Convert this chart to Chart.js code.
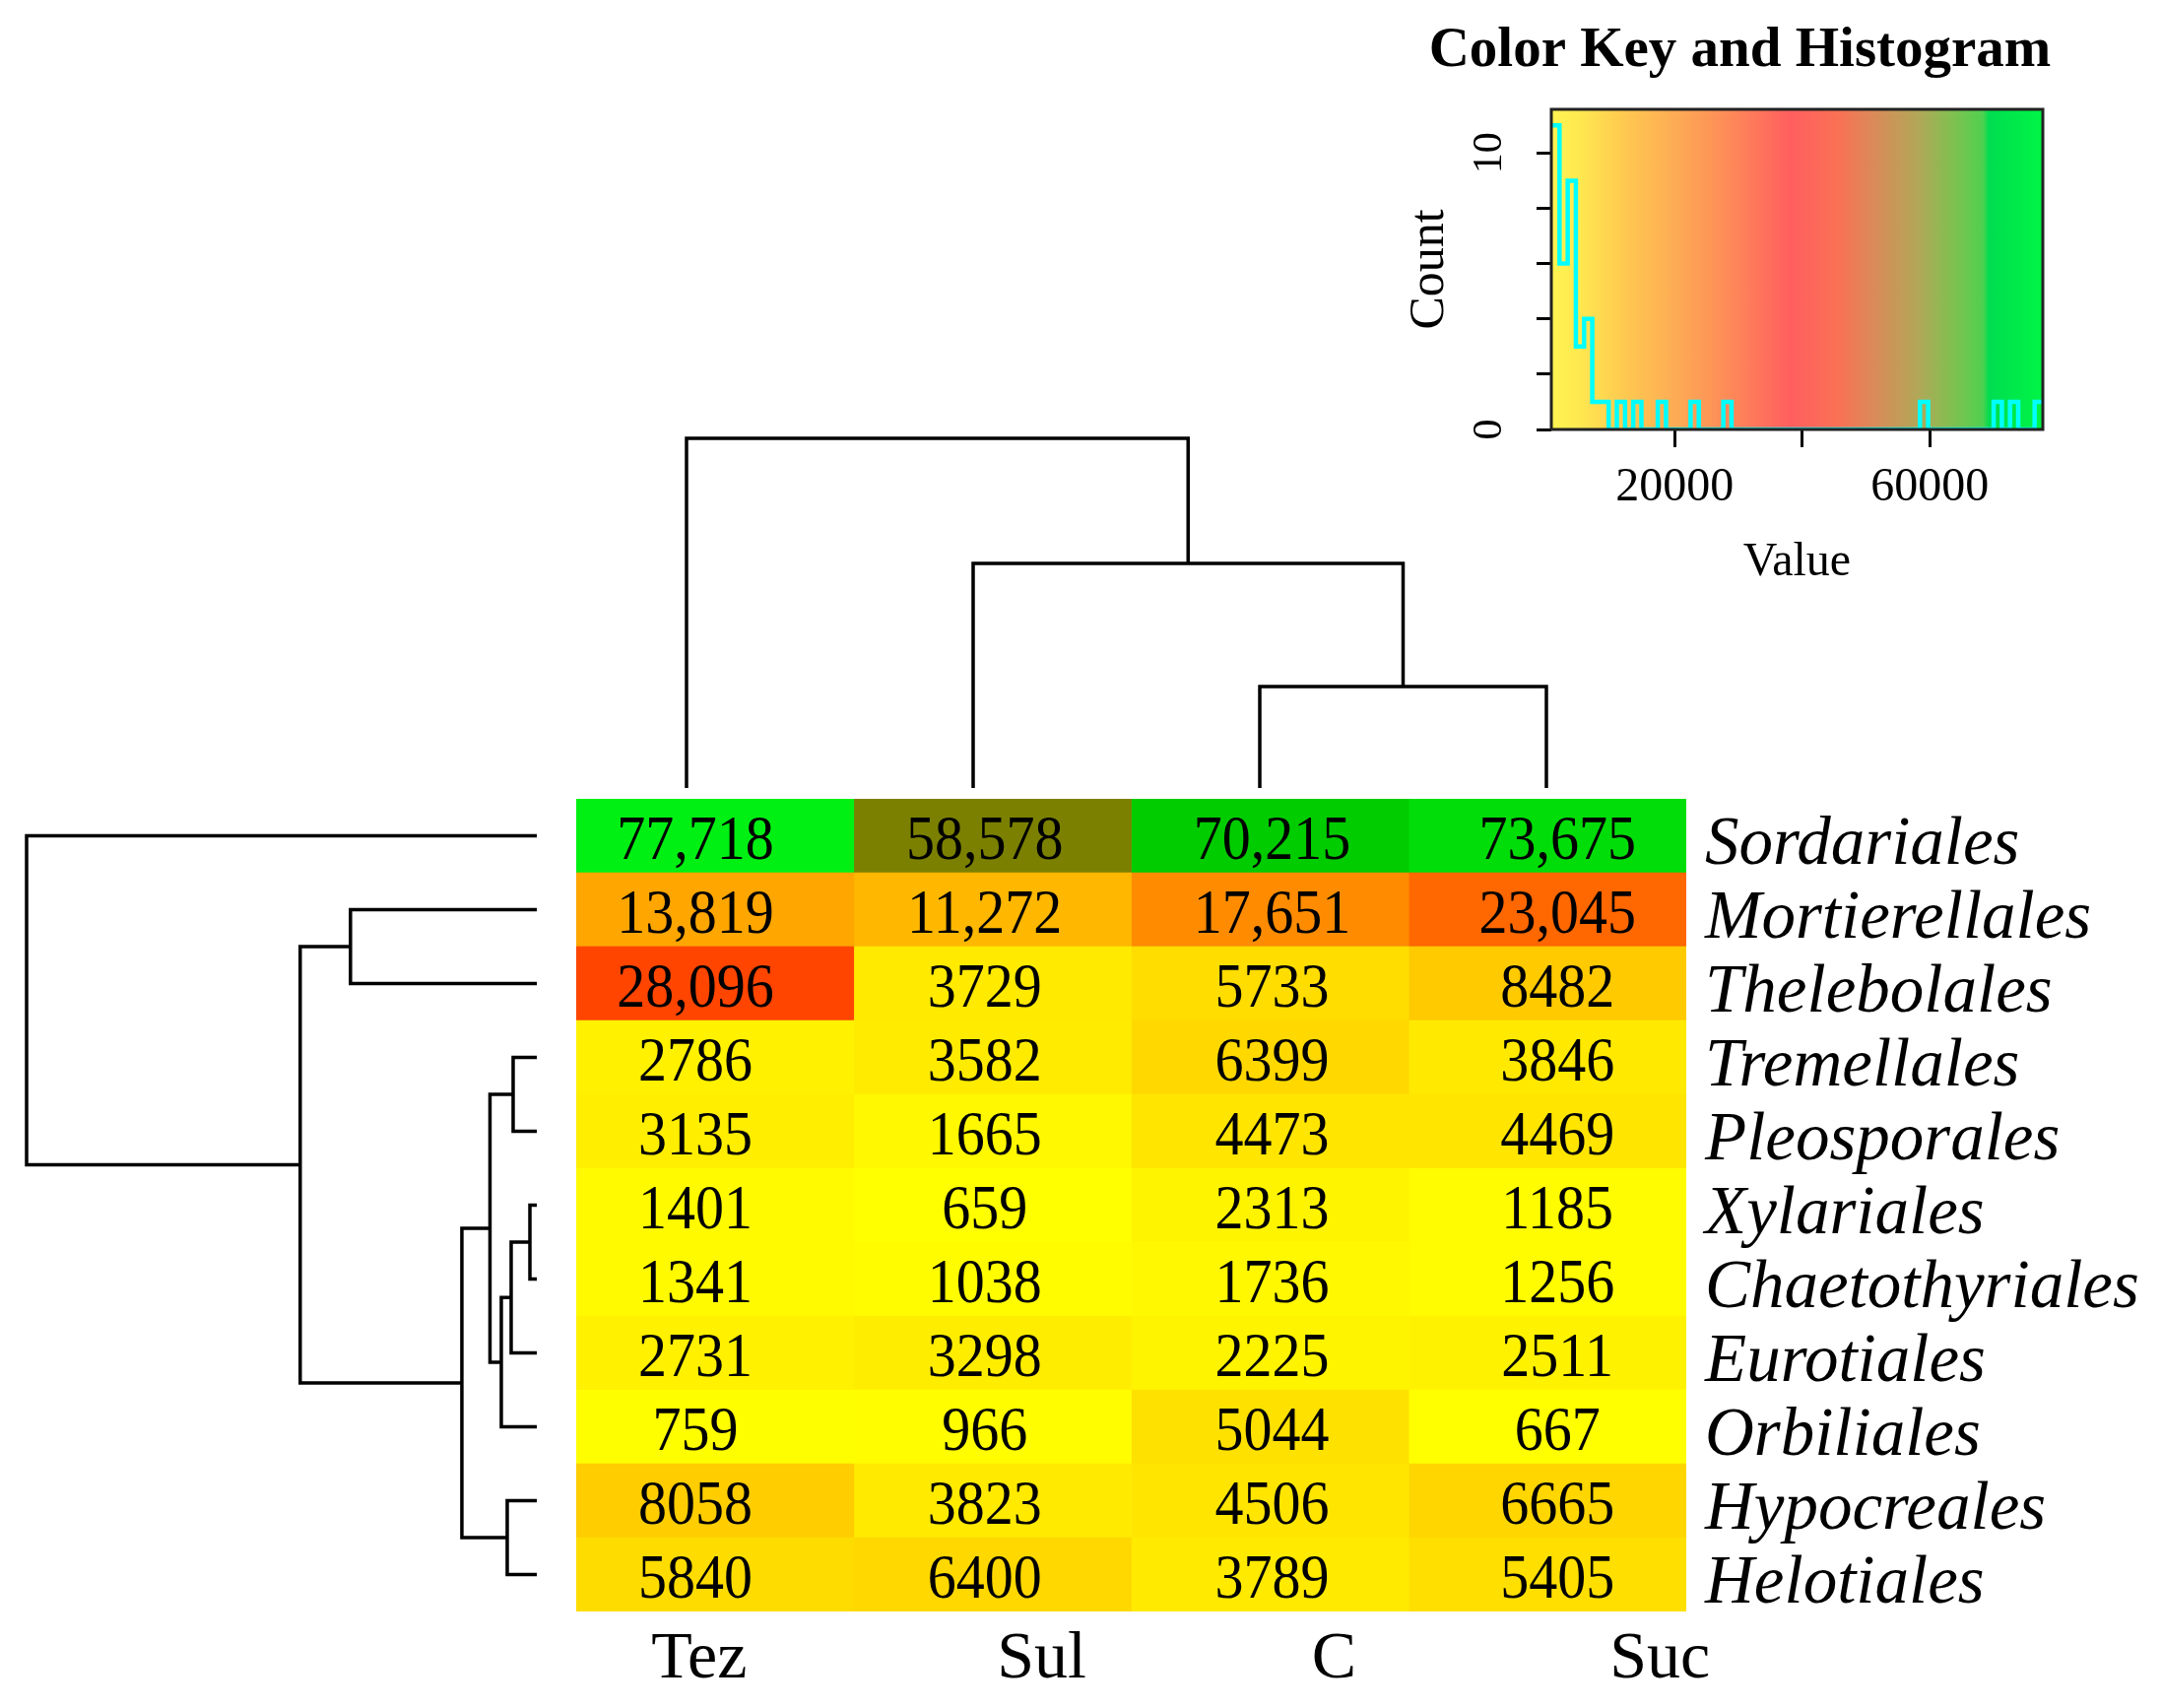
<!DOCTYPE html>
<html>
<head>
	<meta charset="utf-8">
	<script src="https://cdn.jsdelivr.net/npm/chart.js"></script>
	<style>
		body { margin: 0; background: #fff; }
		.box { position: absolute; }
	</style>
</head>

<body>
	<div class="box" style="left: 0px; top: 811px; width: 560px; height: 825px"><canvas id="rowTree"></canvas></div>
	<div class="box" style="left: 540px; top: 430px; width: 1190px; height: 380px"><canvas id="colTree"></canvas></div>
	<div class="box" style="left: 585px; top: 811px; width: 1610px; height: 923px"><canvas id="heat"></canvas></div>
	<div class="box" style="left: 1400px; top: 0px; width: 795px; height: 600px"><canvas id="colorKey"></canvas></div>

	<script type="text/javascript">
		// ---- data ----
		var orders = ['Sordariales', 'Mortierellales', 'Thelebolales', 'Tremellales', 'Pleosporales', 'Xylariales',
			'Chaetothyriales', 'Eurotiales', 'Orbiliales', 'Hypocreales', 'Helotiales'];
		var samples = ['Tez', 'Sul', 'C', 'Suc'];

		var tez = [77718, 13819, 28096, 2786, 3135, 1401, 1341, 2731, 759, 8058, 5840];
		var sul = [58578, 11272, 3729, 3582, 1665, 659, 1038, 3298, 966, 3823, 6400];
		var ctl = [70215, 17651, 5733, 6399, 4473, 2313, 1736, 2225, 5044, 4506, 3789];
		var suc = [73675, 23045, 8482, 3846, 4469, 1185, 1256, 2511, 667, 6665, 5405];
		var cols = [tez, sul, ctl, suc];

		// merges: [a, b, height]; negative = leaf (-(index+1)), positive = earlier merge (1-based)
		var rowMerges = [
			[-6, -7, 7],
			[-4, -5, 24],
			[1, -8, 26],
			[-10, -11, 30],
			[3, -9, 36],
			[2, 5, 47.5],
			[6, 4, 76],
			[-2, -3, 189],
			[8, 7, 240],
			[-1, 9, 517.5]
		];
		var colMerges = [
			[-3, -4, 103],
			[-2, 1, 228],
			[-1, 2, 355]
		];

		// histogram of all cell values, 60 equal bins between the min and max value
		var histMin = 659, histMax = 77718;
		var histCounts = [11, 6, 9, 3, 4, 1, 1, 0, 1, 0, 1, 0, 0, 1, 0, 0, 0, 1, 0, 0,
			0, 1, 0, 0, 0, 0, 0, 0, 0, 0, 0, 0, 0, 0, 0, 0, 0, 0, 0, 0,
			0, 0, 0, 0, 0, 1, 0, 0, 0, 0, 0, 0, 0, 0, 1, 0, 1, 0, 0, 1];
		var keyTicks = [20000, 40000, 60000];
		var keyTickLabels = ['20000', '', '60000'];
		var countTicks = [0, 2, 4, 6, 8, 10];
		var countTickLabels = ['0', '', '', '', '', '10'];

		// ---- styles ----
		var serif = 'Liberation Serif';
		Chart.defaults.font.family = serif;
		Chart.defaults.color = '#000';

		var cellStops = [[659, [255, 255, 0]], [28096, [255, 69, 0]], [58578, [123, 128, 0]], [70215, [0, 204, 0]], [77718, [0, 240, 20]]];
		var keyStops = [[659, '#FFF550'], [5060, '#FFE850'], [12860, '#FEC650'], [20600, '#FDAA55'], [28390, '#FD8A58'],
			[38170, '#FF5F5F'], [45430, '#FA7055'], [51700, '#D88C58'], [58400, '#B0A858'], [63600, '#80C050'],
			[68300, '#50D050'], [69300, '#00DD50'], [77718, '#00F545']];
		var noteShift = [-20, -8, 2, 10];
		var colLabelShift = [-16, 50, 65, 114];

		function cellColor(v) {
			for (var i = 1; i < cellStops.length; i++) {
				if (v <= cellStops[i][0] || i == cellStops.length - 1) {
					var a = cellStops[i - 1], b = cellStops[i];
					var t = Math.max(0, Math.min(1, (v - a[0]) / (b[0] - a[0])));
					var c = a[1].map(function (x, k) { return Math.round(x + (b[1][k] - x) * t); });
					return 'rgb(' + c.join(',') + ')';
				}
			}
		}

		function fmt(v) {
			return v >= 10000 ? v.toLocaleString('en-US') : String(v);
		}

		// turns a merge list into polyline points (null breaks the line)
		function dendroPoints(merges, sideways) {
			var pos = [], ht = [], pts = [];
			merges.forEach(function (m, k) {
				var pa = m[0] < 0 ? -m[0] - 1 : pos[m[0] - 1];
				var ha = m[0] < 0 ? 0 : ht[m[0] - 1];
				var pb = m[1] < 0 ? -m[1] - 1 : pos[m[1] - 1];
				var hb = m[1] < 0 ? 0 : ht[m[1] - 1];
				var h = m[2];
				pos[k] = (pa + pb) / 2;
				ht[k] = h;
				[[pa, ha], [pa, h], [pb, h], [pb, hb]].forEach(function (p) {
					pts.push(sideways ? { x: p[1], y: p[0] } : { x: p[0], y: p[1] });
				});
				pts.push({ x: null, y: null });
			});
			return pts;
		}

		function treeDataset(points) {
			return {
				data: points,
				showLine: true,
				spanGaps: false,
				borderColor: '#000',
				borderWidth: 3.5,
				pointRadius: 0,
				clip: false
			};
		}

		var baseOpts = {
			animation: false,
			responsive: true,
			maintainAspectRatio: false,
			events: [],
			plugins: { legend: { display: false }, tooltip: { enabled: false } }
		};

		// ---- row dendrogram ----
		new Chart(document.getElementById('rowTree'), {
			type: 'scatter',
			data: { datasets: [treeDataset(dendroPoints(rowMerges, true))] },
			options: Object.assign({}, baseOpts, {
				layout: { padding: { left: 27, right: 15, top: 0, bottom: 0 } },
				scales: {
					x: { type: 'linear', min: 0, max: 517.5, reverse: true, display: false },
					y: { type: 'linear', min: -0.5, max: orders.length - 0.5, reverse: true, display: false }
				}
			})
		});

		// ---- column dendrogram ----
		new Chart(document.getElementById('colTree'), {
			type: 'scatter',
			data: { datasets: [treeDataset(dendroPoints(colMerges, false))] },
			options: Object.assign({}, baseOpts, {
				layout: { padding: { left: 11.5, right: 14.5, top: 15, bottom: 10 } },
				scales: {
					x: { type: 'linear', min: -0.5, max: samples.length - 0.5, display: false },
					y: { type: 'linear', min: 0, max: 355, display: false }
				}
			})
		});

		// ---- heatmap ----
		var cellText = {
			id: 'cellText',
			afterDatasetsDraw: function (chart) {
				var ctx = chart.ctx;
				ctx.save();
				ctx.font = '58px "' + serif + '"';
				ctx.fillStyle = '#000';
				ctx.textAlign = 'center';
				ctx.textBaseline = 'alphabetic';
				cols.forEach(function (vals, c) {
					chart.getDatasetMeta(c).data.forEach(function (bar, r) {
						// the original numbers are slightly taller than plain Times
						ctx.save();
						ctx.translate((bar.x + bar.base) / 2 + noteShift[c], bar.y + 23);
						ctx.scale(1, 1.1);
						ctx.fillText(fmt(vals[r]), 0, 0);
						ctx.restore();
					});
				});
				ctx.restore();
			},
			afterDraw: function (chart) {
				var ctx = chart.ctx, xs = chart.scales.x;
				ctx.save();
				ctx.font = '68px "' + serif + '"';
				ctx.fillStyle = '#000';
				ctx.textAlign = 'center';
				ctx.textBaseline = 'alphabetic';
				samples.forEach(function (s, c) {
					ctx.fillText(s, xs.getPixelForValue(c + 0.5) + colLabelShift[c], chart.chartArea.bottom + 67);
				});
				ctx.restore();
			}
		};

		new Chart(document.getElementById('heat'), {
			type: 'bar',
			data: {
				labels: orders,
				datasets: samples.map(function (s, c) {
					return {
						label: s,
						data: cols[c].map(function () { return [c, c + 1]; }),
						backgroundColor: cols[c].map(cellColor),
						borderWidth: 0,
						grouped: false,
						barPercentage: 1,
						categoryPercentage: 1
					};
				})
			},
			options: Object.assign({}, baseOpts, {
				indexAxis: 'y',
				layout: { padding: { left: 0, right: 0, top: 0, bottom: 98 } },
				scales: {
					x: { type: 'linear', min: 0, max: samples.length, display: false },
					y: {
						position: 'right',
						grid: { display: false, drawTicks: false },
						border: { display: false },
						ticks: {
							autoSkip: false,
							padding: 19,
							labelOffset: 10,
							color: '#000',
							font: { family: serif, size: 69, style: 'italic' }
						},
						afterFit: function (s) {
							s.width = 483;
							s.paddingTop = 0;
							s.paddingBottom = 0;
						}
					}
				}
			}),
			plugins: [cellText]
		});

		// ---- color key and histogram ----
		var keyDecor = {
			id: 'keyDecor',
			beforeDatasetsDraw: function (chart) {
				var ctx = chart.ctx, a = chart.chartArea, xs = chart.scales.x;
				var g = ctx.createLinearGradient(a.left, 0, a.right, 0);
				keyStops.forEach(function (s) {
					g.addColorStop((xs.getPixelForValue(s[0]) - a.left) / a.width, s[1]);
				});
				ctx.save();
				ctx.fillStyle = g;
				ctx.fillRect(a.left, a.top, a.width, a.height);
				ctx.restore();
			},
			afterDraw: function (chart) {
				var ctx = chart.ctx, a = chart.chartArea;
				ctx.save();
				ctx.strokeStyle = '#222';
				ctx.lineWidth = 3;
				ctx.strokeRect(a.left, a.top, a.width, a.height);
				ctx.font = 'bold 57px "' + serif + '"';
				ctx.fillStyle = '#000';
				ctx.textAlign = 'center';
				ctx.textBaseline = 'alphabetic';
				ctx.fillText('Color Key and Histogram', a.left + a.width / 2 - 58, 67);
				ctx.restore();
			}
		};

		var histPoints = histCounts.concat([histCounts[histCounts.length - 1]]).map(function (n, i) {
			return { x: i, y: n };
		});

		new Chart(document.getElementById('colorKey'), {
			type: 'scatter',
			data: {
				datasets: [{
					data: histPoints,
					xAxisID: 'bin',
					showLine: true,
					stepped: true,
					borderColor: '#00FFFF',
					borderWidth: 4.5,
					pointRadius: 0
				}]
			},
			options: Object.assign({}, baseOpts, {
				layout: { padding: { left: 0, right: 121, top: 111, bottom: 0 } },
				scales: {
					bin: { type: 'linear', position: 'bottom', min: 0, max: histCounts.length, display: false },
					x: {
						type: 'linear',
						position: 'bottom',
						min: histMin,
						max: histMax,
						afterBuildTicks: function (s) { s.ticks = keyTicks.map(function (v) { return { value: v }; }); },
						ticks: {
							autoSkip: false,
							maxRotation: 0,
							padding: 13,
							color: '#000',
							font: { size: 48 },
							callback: function (v, i) { return keyTickLabels[i]; }
						},
						grid: { drawOnChartArea: false, tickLength: 18, tickWidth: 3, color: '#000' },
						border: { display: false },
						title: { display: true, text: 'Value', color: '#000', font: { size: 48 }, padding: { top: 9, bottom: 0 } },
						afterFit: function (s) {
							s.height = 164;
							s.paddingLeft = 0;
							s.paddingRight = 0;
						}
					},
					y: {
						type: 'linear',
						min: 0,
						max: Math.max.apply(null, histCounts) / 0.95,
						afterBuildTicks: function (s) { s.ticks = countTicks.map(function (v) { return { value: v }; }); },
						ticks: {
							autoSkip: false,
							minRotation: 90,
							maxRotation: 90,
							crossAlign: 'center',
							padding: 26,
							color: '#000',
							font: { size: 42 },
							callback: function (v, i) { return countTickLabels[i]; }
						},
						grid: { drawOnChartArea: false, tickLength: 15, tickWidth: 3, color: '#000' },
						border: { display: false },
						title: { display: true, text: 'Count', color: '#000', font: { size: 50 }, padding: { top: 22, bottom: 0 } },
						afterFit: function (s) {
							s.width = 175;
							s.paddingTop = 0;
							s.paddingBottom = 0;
						}
					}
				}
			}),
			plugins: [keyDecor]
		});
	</script>

</body>

</html>
